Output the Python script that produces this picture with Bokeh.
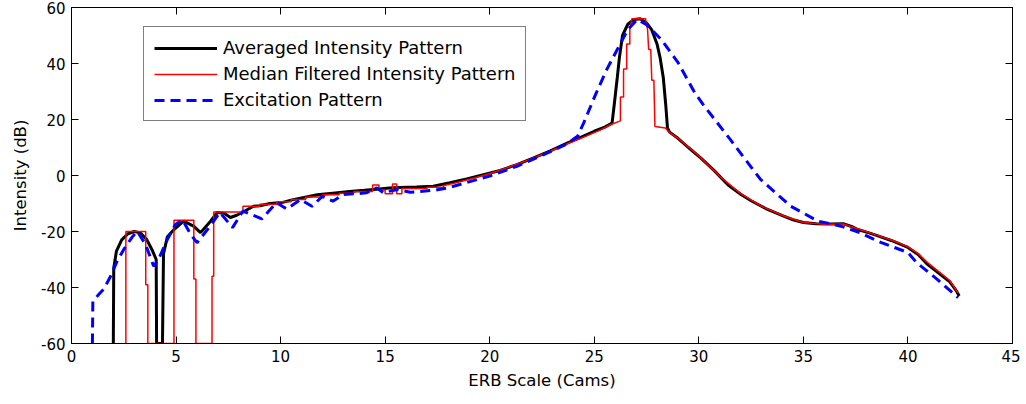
from bokeh.plotting import figure
from bokeh.models import Range1d, LinearAxis, FixedTicker, Legend, LegendItem, PrintfTickFormatter
from bokeh.embed import file_html
from bokeh.resources import INLINE

# Averaged intensity pattern (black)
avg_x = [2.0, 2.02, 2.15, 2.4, 2.7, 3.0, 3.3, 3.6, 3.85, 4.05, 4.07, 4.35, 4.4, 4.58, 4.9,
         5.36, 5.84, 6.17, 6.65, 6.97, 7.3, 7.6, 7.9, 8.16, 8.7, 9.0, 9.5, 10.1, 10.5, 11.0,
         11.75, 12.5, 13.3, 14.0, 14.6, 15.2, 15.7, 16.5, 17.3, 18.1, 18.9, 19.7, 20.5, 21.3,
         22.1, 22.9, 23.7, 24.4, 25.0, 25.5, 25.85, 25.95, 26.1, 26.2, 26.35, 26.6, 26.9, 27.2,
         27.5, 27.75, 28.0, 28.15, 28.3, 28.42, 28.5, 28.6, 29.0, 29.5, 30.1, 30.7, 31.4, 32.0,
         32.5, 33.2, 34.0, 34.5, 35.0, 35.6, 36.3, 36.9, 37.3, 37.6, 38.1, 38.5, 39.2, 40.0,
         40.5, 40.9, 41.5, 42.0, 42.3, 42.45]
avg_y = [-60, -33, -27, -23, -20.8, -20.0, -20.5, -22.9, -26.5, -30, -60, -60, -28, -22, -19.3,
         -16.3, -18.1, -20.4, -16.3, -13.2, -13.5, -15.0, -14.2, -13.2, -11.0, -10.8, -10.0, -9.6,
         -8.8, -8.0, -6.9, -6.3, -5.7, -5.3, -4.9, -4.5, -4.3, -4.1, -3.8, -2.6, -1.2, 0.3, 1.8,
         3.9, 6.3, 8.8, 11.6, 13.8, 15.8, 17.3, 18.7, 25, 35, 42, 50, 54, 55.7, 56, 54.5, 52, 47,
         42, 35, 25, 17, 15.5, 13.3, 10.0, 6.2, 2.0, -3.4, -6.7, -9.0, -11.8, -14.3, -15.8, -16.8,
         -17.2, -17.3, -17.2, -18.2, -19.3, -20.4, -21.4, -23.2, -25.7, -28.3, -31.5, -35.0,
         -38.0, -41.0, -43.0]

# Median filtered intensity pattern (red)
med_x = [2.6, 2.6, 3.55, 3.55, 3.65, 3.65, 4.9, 4.9, 5.85, 5.85, 5.95, 5.95, 6.72, 6.72, 6.8,
         6.8, 8.2, 8.2, 9.0, 9.0, 9.8, 9.8, 10.5, 10.5, 11.2, 11.2, 12.0, 12.0, 12.8, 12.8, 13.5,
         13.5, 14.4, 14.4, 14.7, 14.7, 15.0, 15.0, 15.35, 15.35, 15.55, 15.55, 15.8, 15.8, 17.0,
         17.0, 17.8, 17.8, 18.3, 18.8, 19.3, 19.8, 20.3, 20.8, 21.3, 21.8, 22.3, 22.8, 23.3,
         23.8, 24.3, 24.8, 25.3, 25.8, 26.25, 26.25, 26.4, 26.4, 26.55, 26.55, 26.7, 26.7, 26.8,
         27.45, 27.55, 27.6, 27.7, 27.75, 27.85, 27.9, 28.4, 28.6, 29.0, 30.0, 31.0, 32.0, 33.0,
         34.0, 35.0, 36.0, 36.9, 37.6, 38.5, 39.3, 40.0, 40.5, 41.0, 41.5, 42.0, 42.4]
med_y = [-60, -20, -20, -39, -39, -60, -60, -16, -16, -37, -37, -60, -60, -36, -36, -13, -13,
         -11, -11, -10.3, -10.3, -9.4, -9.4, -8.6, -8.6, -7.7, -7.7, -6.9, -6.9, -6.3, -6.3,
         -5.7, -5.7, -3.4, -3.4, -5.2, -5.2, -6.5, -6.5, -3.0, -3.0, -6.5, -6.5, -4.6, -4.6,
         -4.2, -4.2, -3.6, -2.8, -1.8, -0.8, 0.3, 1.4, 2.7, 4.0, 5.4, 6.9, 8.4, 10.0, 11.6, 13.1,
         14.7, 16.3, 18.2, 19.5, 28, 28, 38, 38, 47, 47, 52, 56, 56, 52, 45, 45, 34, 34, 17.5,
         17.0, 15.3, 13.3, 7.0, -0.3, -6.5, -11.0, -14.3, -16.8, -17.4, -17.3, -19.0, -21.3,
         -23.3, -25.5, -28.0, -31.5, -34.5, -37.5, -42.0]

# Excitation pattern (blue, dashed)
exc_x = [1.0, 1.02, 1.3, 1.55, 1.87, 2.18, 2.5, 2.9, 3.14, 3.54, 3.93, 4.16, 4.58, 4.97, 5.3,
         5.7, 6.0, 6.5, 7.1, 7.7, 8.2, 9.1, 9.8, 10.3, 10.95, 11.5, 12.0, 12.5, 13.0, 13.6, 14.1,
         14.6, 14.9, 15.6, 16.2, 16.8, 17.4, 18.0, 18.9, 20.0, 21.3, 22.6, 23.7, 24.2, 24.5,
         25.1, 25.6, 26.1, 26.6, 27.05, 27.5, 28.2, 29.0, 29.8, 30.2, 31.5, 32.95, 34.4, 35.7,
         36.8, 37.7, 38.7, 40.0, 40.4, 41.4, 42.4]
exc_y = [-60, -45, -42.5, -40.5, -36, -30.6, -26.4, -22, -19.9, -24.6, -32.4, -30, -22.9, -17.5,
         -15.8, -21, -24, -19.3, -13.2, -18.6, -12.7, -15.5, -9.7, -12, -8.6, -11, -7.4, -9.2,
         -6.8, -6.5, -6.2, -4.4, -6.1, -5.0, -6.0, -5.6, -5.2, -4.4, -2.5, -0.2, 3.3, 7.5, 11.3,
         14.0, 18.9, 29.6, 37.9, 45.0, 52.1, 55.7, 53.9, 48.6, 40.4, 29.6, 25.4, 12.9, -1.4,
         -11.0, -16.3, -18.1, -20.4, -23.9, -27.5, -31.0, -37.1, -43.6]

x_ticks = [0, 5, 10, 15, 20, 25, 30, 35, 40, 45]
y_ticks = [-60, -40, -20, 0, 20, 40, 60]
labels = ["Averaged Intensity Pattern", "Median Filtered Intensity Pattern", "Excitation Pattern"]

FONT = "DejaVu Sans"

p = figure(frame_width=941, frame_height=336, output_backend="svg", toolbar_location=None,
           x_range=Range1d(0, 45), y_range=Range1d(-60, 60),
           min_border_left=71, min_border_top=7, min_border_right=8, min_border_bottom=46)
p.background_fill_color = "white"
p.border_fill_color = "white"
p.outline_line_color = "black"
p.outline_line_width = 1
p.xgrid.visible = False
p.ygrid.visible = False

r_avg = p.line(avg_x, avg_y, line_color="black", line_width=3)
r_med = p.line(med_x, med_y, line_color="red", line_width=1.5)
r_exc = p.line(exc_x, exc_y, line_color="blue", line_width=3, line_dash="10 6")


def style_axis(ax, ticks, show_labels=True):
    ax.ticker = FixedTicker(ticks=ticks)
    ax.formatter = PrintfTickFormatter(format="%d")
    ax.major_tick_in = 7
    ax.major_tick_out = 0
    ax.minor_tick_line_color = None
    ax.axis_line_color = "black"
    ax.major_tick_line_color = "black"
    ax.major_label_text_font = FONT
    ax.major_label_text_font_size = "15px"
    ax.major_label_text_color = "black" if show_labels else None
    ax.major_label_standoff = 6
    ax.axis_label_text_font = FONT
    ax.axis_label_text_font_size = "16.5px"
    ax.axis_label_text_font_style = "normal"
    ax.axis_label_text_color = "black"


style_axis(p.xaxis[0], x_ticks)
style_axis(p.yaxis[0], y_ticks)
p.xaxis[0].axis_label = "ERB Scale (Cams)"
p.xaxis[0].axis_label_standoff = 6
p.yaxis[0].axis_label = "Intensity (dB)"
p.yaxis[0].axis_label_standoff = 8

top = LinearAxis()
style_axis(top, x_ticks, show_labels=False)
top.major_label_text_font_size = "0px"
top.major_label_standoff = 0
p.add_layout(top, "above")
right = LinearAxis()
style_axis(right, y_ticks, show_labels=False)
right.major_label_text_font_size = "0px"
right.major_label_standoff = 0
p.add_layout(right, "right")

legend = Legend(items=[LegendItem(label=labels[0], renderers=[r_avg]),
                       LegendItem(label=labels[1], renderers=[r_med]),
                       LegendItem(label=labels[2], renderers=[r_exc])],
                location=(72, 222))
legend.label_text_font = FONT
legend.label_text_font_size = "18px"
legend.label_text_color = "black"
legend.glyph_width = 63
legend.glyph_height = 20
legend.label_height = 20
legend.label_standoff = 6
legend.spacing = 5
legend.padding = 10
legend.margin = 0
legend.border_line_color = "black"
legend.border_line_width = 1
legend.background_fill_color = "white"
legend.background_fill_alpha = 1
p.add_layout(legend, "center")

open("out.html", "w").write(file_html(p, INLINE))
